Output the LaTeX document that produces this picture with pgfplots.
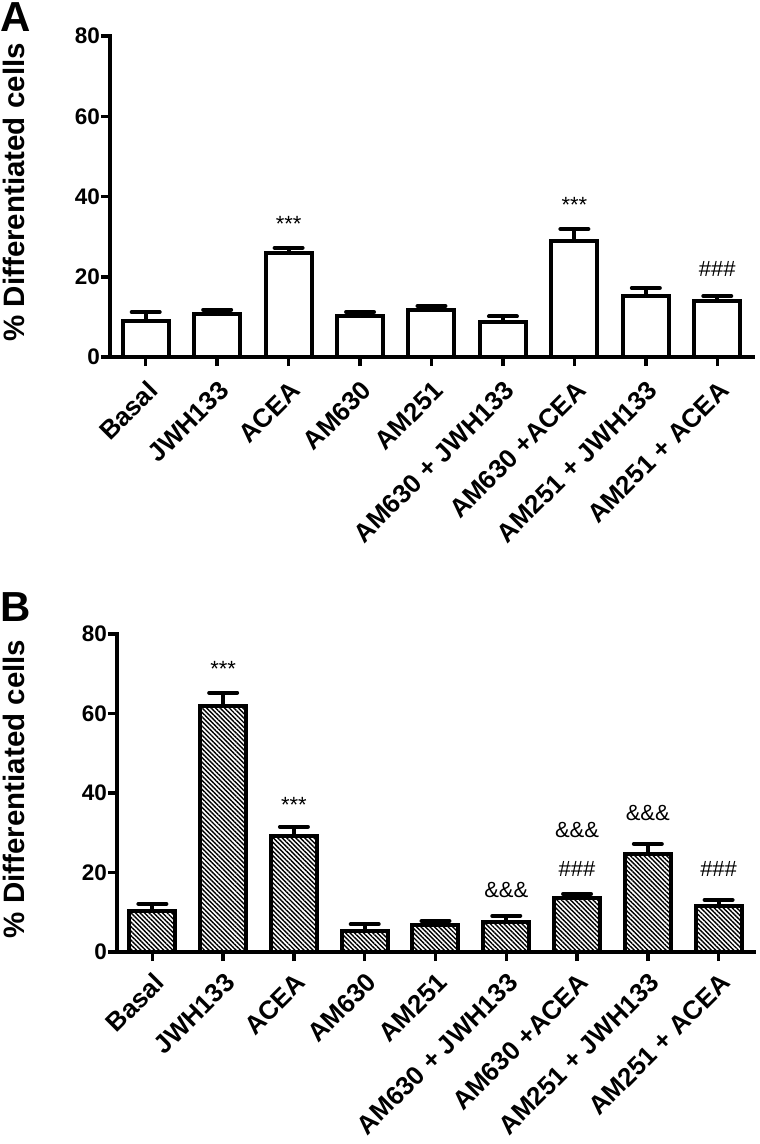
\documentclass[border=0pt]{standalone}
\usepackage{pgfplots}
\pgfplotsset{compat=1.18}
\usepackage{pgfplotstable}
\usepackage{fontspec}
\setmainfont{Liberation Sans}
\usetikzlibrary{patterns.meta}

\pgfplotstableread{
x y e
0 9.0 2.2
1 10.7 1.1
2 25.9 1.3
3 10.2 1.0
4 11.7 1.0
5 8.8 1.3
6 28.9 3.0
7 15.2 2.0
8 14.0 1.2
}\dataA

\pgfplotstableread{
x y e
0 10.3 1.8
1 61.9 3.3
2 29.2 2.3
3 5.3 1.7
4 6.8 1.0
5 7.5 1.6
6 13.6 1.0
7 24.6 2.6
8 11.6 1.5
}\dataB

\newcommand{\annfont}{\fontsize{22}{26}\selectfont}

\pgfplotsset{
  panel/.style={
    scale only axis,
    anchor=north west,
    xmin=-0.5, xmax=8.5, ymin=0, ymax=80,
    axis lines=left,
    axis line style={-, line width=3.5pt, line cap=rect},
    clip=false,
    xtick={0,...,8},
    xticklabels={Basal, JWH133, ACEA, AM630, AM251, AM630 + JWH133, AM630 +ACEA, AM251 + JWH133, AM251 + ACEA},
    ytick={0,20,40,60,80},
    tick align=outside,
    major tick length=9pt,
    tick style={line width=3.5pt, black},
    /pgf/number format/assume math mode=true,
    yticklabel style={font=\fontsize{22.5}{26}\selectfont\bfseries, inner sep=1pt},
    ylabel={\% Differentiated cells},
  },
  errs/.style={
    error bars/.cd, y dir=plus, y explicit,
    error bar style={line width=4pt},
    error mark options={rotate=90, mark size=14pt, line width=4pt, line cap=round},
  },
}

\begin{document}
\begin{tikzpicture}
\path[use as bounding box] (0pt,0pt) rectangle (760pt,-1144pt);

\node[anchor=north west, inner sep=0pt, font=\fontsize{42}{46}\selectfont\bfseries] at (0.5pt,-2pt) {A};
\node[anchor=north west, inner sep=0pt, font=\fontsize{42}{46}\selectfont\bfseries] at (0.5pt,-592pt) {B};

\begin{axis}[panel, at={(110pt,-36pt)}, width=643pt, height=321pt,
  xticklabel style={font=\fontsize{26}{30}\selectfont\bfseries, xshift=7pt, yshift=-20pt, rotate=45, anchor=east, inner sep=0pt},
  every axis y label/.style={at={(axis description cs:-0.149,0.513)}, rotate=90, anchor=center, font=\fontsize{29.5}{33}\selectfont\bfseries}]
\addplot[ybar, bar width=46pt, draw=black, line width=4pt, fill=white, errs]
  table[x=x, y=y, y error=e] {\dataA};
\node[anchor=base, font=\annfont] at (axis cs:2,31.2) {***};
\node[anchor=base, font=\annfont] at (axis cs:6,35.9) {***};
\node[anchor=base, font=\annfont] at (axis cs:8,20.0) {\#\#\#};
\end{axis}

\begin{axis}[panel, at={(117pt,-634pt)}, width=637pt, height=318pt,
  xticklabel style={font=\fontsize{26}{30}\selectfont\bfseries, xshift=7pt, yshift=-17pt, rotate=45, anchor=east, inner sep=0pt},
  every axis y label/.style={at={(axis description cs:-0.162,0.513)}, rotate=90, anchor=center, font=\fontsize{29.5}{33}\selectfont\bfseries}]
\addplot[ybar, bar width=46pt, draw=black, line width=4pt, fill=white,
  postaction={pattern={Lines[angle=-45, distance=3.2pt, line width=1.4pt]}}, errs]
  table[x=x, y=y, y error=e] {\dataB};
\node[anchor=base, font=\annfont] at (axis cs:1,69.4) {***};
\node[anchor=base, font=\annfont] at (axis cs:2,35.0) {***};
\node[anchor=base, font=\annfont] at (axis cs:5,13.6) {\&\&\&};
\node[anchor=base, font=\annfont] at (axis cs:6,28.7) {\&\&\&};
\node[anchor=base, font=\annfont] at (axis cs:6,19.1) {\#\#\#};
\node[anchor=base, font=\annfont] at (axis cs:7,33.0) {\&\&\&};
\node[anchor=base, font=\annfont] at (axis cs:8,19.1) {\#\#\#};
\end{axis}
\end{tikzpicture}
\end{document}
